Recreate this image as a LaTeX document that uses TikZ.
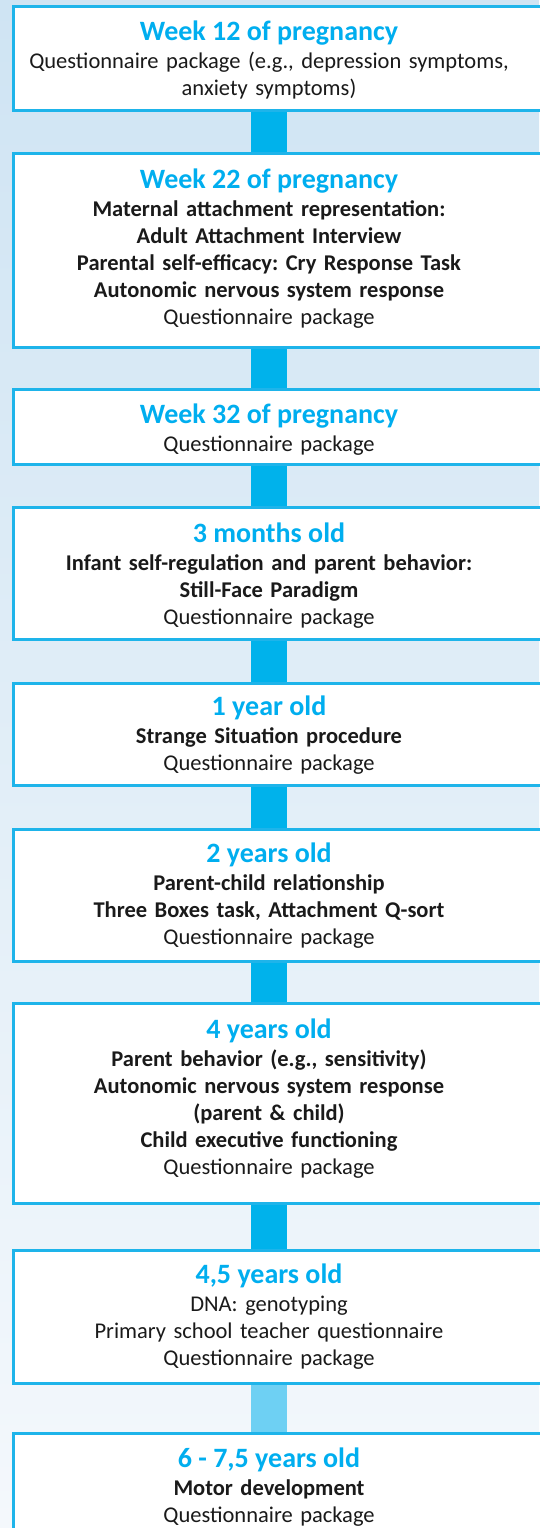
\documentclass[tikz,border=0pt]{standalone}
\usepackage{fontspec}
\setmainfont{Carlito}
\usetikzlibrary{calc}
\pgfdeclarelayer{background}
\pgfsetlayers{background,main}
\definecolor{cyantitle}{HTML}{00AEEF}
\definecolor{boxline}{HTML}{1EB4EA}
\definecolor{barcol}{HTML}{00B2EB}
\definecolor{barlight}{HTML}{6ED0F3}
\definecolor{bgtop}{HTML}{CFE4F3}
\definecolor{bgbot}{HTML}{F4F8FC}
\definecolor{bodytext}{HTML}{1A1A1A}
\frenchspacing
\begin{document}
\begin{tikzpicture}[x=1pt,y=-1pt,
  stagebox/.style={draw=boxline,line width=3pt,fill=white,rectangle,inner sep=0pt,anchor=north west,minimum width=540pt},
  ttl/.style={text=cyantitle,font=\fontsize{28}{32}\selectfont\bfseries,anchor=base,inner sep=0pt},
  bodytxt/.style={text=bodytext,font=\fontsize{22.5}{27}\selectfont,align=center,anchor=base,inner sep=0pt,text width=530pt},
  bar/.style={line width=36pt,draw=barcol},
  barl/.style={line width=36pt,draw=barlight}
]
\useasboundingbox (0,0) rectangle (539,1528);
\coordinate (cx) at (269,0);
% boxes
\node[stagebox,minimum height=104pt] (b1) at (12,5) {};
\node[stagebox,minimum height=194pt] (b2) at (12,152) {};
\node[stagebox,minimum height=75pt] (b3) at (12,388) {};
\node[stagebox,minimum height=132pt] (b4) at (12,506) {};
\node[stagebox,minimum height=102pt] (b5) at (12,682) {};
\node[stagebox,minimum height=132pt] (b6) at (12,828) {};
\node[stagebox,minimum height=200pt] (b7) at (12,1002) {};
\node[stagebox,minimum height=133pt] (b8) at (12,1249) {};
\node[stagebox,minimum height=120pt] (b9) at (12,1432) {};
\begin{pgfonlayer}{background}
\shade[top color=bgtop,bottom color=bgbot] (0,0) rectangle (539,1528);
\draw[bar] (b1.south -| cx) -- (b2.north -| cx);
\draw[bar] (b2.south -| cx) -- (b3.north -| cx);
\draw[bar] (b3.south -| cx) -- (b4.north -| cx);
\draw[bar] (b4.south -| cx) -- (b5.north -| cx);
\draw[bar] (b5.south -| cx) -- (b6.north -| cx);
\draw[bar] (b6.south -| cx) -- (b7.north -| cx);
\draw[bar] (b7.south -| cx) -- (b8.north -| cx);
\draw[barl] (b8.south -| cx) -- (b9.north -| cx);
\end{pgfonlayer}
% texts
\node[ttl] (t1) at (269,41) {Week 12 of pregnancy};
\node[bodytxt] (d1) at (269,69) {Questionnaire package (e.g., depression symptoms,\\ anxiety symptoms)};
\node[ttl] (t2) at (269,188) {Week 22 of pregnancy};
\node[bodytxt] (d2) at (269,216) {\textbf{Maternal attachment representation:}\\ \textbf{Adult Attachment Interview}\\ \textbf{Parental self-efficacy: Cry Response Task}\\ \textbf{Autonomic nervous system response}\\ Questionnaire package};
\node[ttl] (t3) at (269,423) {Week 32 of pregnancy};
\node[bodytxt] (d3) at (269,451) {Questionnaire package};
\node[ttl] (t4) at (269,542) {3 months old};
\node[bodytxt] (d4) at (269,570) {\textbf{Infant self-regulation and parent behavior:}\\ \textbf{Still-Face Paradigm}\\ Questionnaire package};
\node[ttl] (t5) at (269,715) {1 year old};
\node[bodytxt] (d5) at (269,743) {\textbf{Strange Situation procedure}\\ Questionnaire package};
\node[ttl] (t6) at (269,862) {2 years old};
\node[bodytxt] (d6) at (269,890) {\textbf{Parent-child relationship}\\ \textbf{Three Boxes task, Attachment Q-sort}\\ Questionnaire package};
\node[ttl] (t7) at (269,1038) {4 years old};
\node[bodytxt] (d7) at (269,1066) {\textbf{Parent behavior (e.g., sensitivity)}\\ \textbf{Autonomic nervous system response}\\ \textbf{(parent \& child)}\\ \textbf{Child executive functioning}\\ Questionnaire package};
\node[ttl] (t8) at (269,1283) {4,5 years old};
\node[bodytxt] (d8) at (269,1311) {DNA: genotyping\\ Primary school teacher questionnaire\\ Questionnaire package};
\node[ttl] (t9) at (269,1467) {6 - 7,5 years old};
\node[bodytxt] (d9) at (269,1495) {\textbf{Motor development}\\ Questionnaire package};
\end{tikzpicture}
\end{document}
